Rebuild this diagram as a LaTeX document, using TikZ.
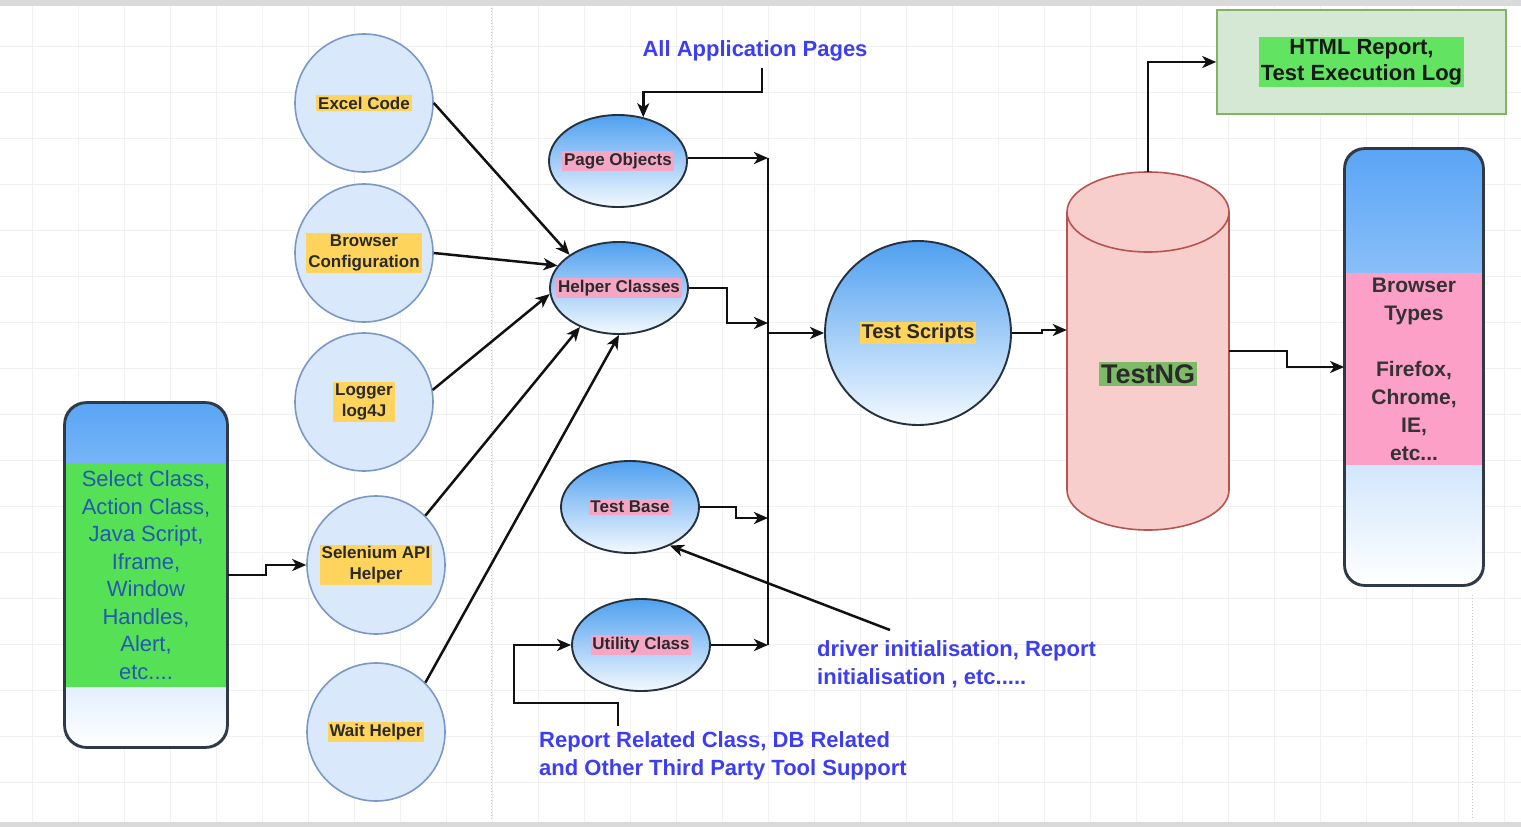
\documentclass[tikz,border=0pt]{standalone}
\usepackage{fontspec}
\setmainfont{Liberation Sans}
\usetikzlibrary{shapes.geometric,arrows.meta,calc}
\definecolor{circF}{HTML}{DAE8FC}
\definecolor{circB}{HTML}{7A98C4}
\definecolor{hlY}{HTML}{FFD45C}
\definecolor{hlP}{HTML}{F4A6C4}
\definecolor{labTxt}{HTML}{2A2A2A}
\definecolor{ellTop}{HTML}{4FA0F0}
\definecolor{ellBot}{HTML}{F4F9FF}
\definecolor{ellB}{HTML}{26313F}
\definecolor{arrC}{HTML}{111111}
\definecolor{boxTop}{HTML}{5AA5F5}
\definecolor{boxB}{HTML}{2F3A46}
\definecolor{greenBand}{HTML}{55E055}
\definecolor{leftTxt}{HTML}{2459B0}
\definecolor{pinkBand}{HTML}{FCA0C8}
\definecolor{brTxt}{HTML}{333333}
\definecolor{htmlF}{HTML}{D5E8D4}
\definecolor{htmlB}{HTML}{82B366}
\definecolor{htmlHL}{HTML}{62E462}
\definecolor{ngHL}{HTML}{7DBB69}
\definecolor{cylF}{HTML}{F8CECC}
\definecolor{cylB}{HTML}{B85450}
\definecolor{blueTxt}{HTML}{3D3DF2}
\definecolor{gridC}{HTML}{F1F1F1}
\definecolor{stripC}{HTML}{DADADA}
\begin{document}
\begin{tikzpicture}[x=1pt,y=-1pt,
  circ/.style={circle, draw=circB, fill=circF, line width=1.6pt, minimum size=138pt, inner sep=0pt},
  lab/.style={text=labTxt, font=\bfseries\fontsize{17}{21}\selectfont, inner sep=1.8pt, align=center},
  hly/.style={lab, fill=hlY},
  hlp/.style={lab, fill=hlP},
  ell/.style={ellipse, draw=ellB, line width=1.9pt, top color=ellTop, bottom color=ellBot, minimum width=138pt, minimum height=92pt, inner sep=0pt},
  arr/.style={draw=arrC, line width=2.5pt, -{Stealth[length=14pt,width=12pt,inset=4pt]}},
  ln/.style={draw=arrC, line width=2.5pt},
  bluetxt/.style={text=blueTxt, font=\bfseries\fontsize{22}{28}\selectfont, align=left, inner sep=0pt},
  tallbox/.style={draw=boxB, line width=1.8pt, rounded corners=20pt, top color=boxTop, bottom color=white, inner sep=0pt}
]
\useasboundingbox (0,0) rectangle (1521,827);
\fill[white] (0,0) rectangle (1521,827);
% faint grid
\foreach \gx in {32,78,...,1521} \draw[gridC, line width=1pt] (\gx,6) -- (\gx,822);
\foreach \gy in {46,92,...,822} \draw[gridC, line width=1pt] (0,\gy) -- (1521,\gy);
\draw[black!22, line width=1pt, dotted] (491,8) -- (491,820);
\draw[black!22, line width=1pt, dotted] (1472,595) -- (1472,820);
\fill[stripC] (0,0) rectangle (1521,6);
\fill[stripC] (0,822) rectangle (1521,827);

% left circles
\node[circ] (excel) at (364,103) {};
\node[hly] (excelT) at (excel.center) {Excel Code};
\node[circ] (brconf) at (364,253) {};
\node[hly] (brconfT) at (brconf.center) {Browser\\Configuration};
\node[circ] (logger) at (364,402) {};
\node[hly] (loggerT) at (logger.center) {Logger\\log4J};
\node[circ] (selen) at (376,565) {};
\node[hly] (selenT) at (selen.center) {Selenium API\\Helper};
\node[circ] (wait) at (376,732) {};
\node[hly] (waitT) at (wait.center) {Wait Helper};

% left tall box
\node[tallbox, rounded corners=22pt, minimum width=162pt, minimum height=344pt] (selbox) at (146,575) {};
\fill[greenBand] (66,463) rectangle (226,687);
\draw[boxB, line width=1.8pt, rounded corners=22pt] (selbox.north west) rectangle (selbox.south east);
\node[text=leftTxt, font=\fontsize{22}{27.5}\selectfont, align=center, inner sep=0pt] (selboxT) at (146,575)
  {Select Class,\\Action Class,\\Java Script,\\Iframe,\\Window\\Handles,\\Alert,\\etc....};

% middle ellipses
\node[ell] (pageobj) at (618,161) {};
\node[hlp] (pageobjT) at (pageobj.center) {Page Objects};
\node[ell] (helper) at (619,288) {};
\node[hlp] (helperT) at (helper.center) {Helper Classes};
\node[ell] (testbase) at (630,507) {};
\node[hlp] (testbaseT) at (testbase.center) {Test Base};
\node[ell] (utility) at (641,645) {};
\node[hlp] (utilityT) at (utility.center) {Utility Class};

% test scripts
\node[ell, minimum width=186pt, minimum height=184pt] (ts) at (918,333) {};
\node[lab, fill=hlY, font=\bfseries\fontsize{20}{24}\selectfont] (tsT) at (ts.center) {Test Scripts};

% cylinder TestNG
\node[minimum width=162pt, minimum height=358pt, inner sep=0pt] (cyl) at (1148,351) {};
\filldraw[fill=cylF, draw=cylB, line width=1.6pt] (1067,212) -- (1067,490)
  arc[start angle=180, end angle=0, x radius=81, y radius=40] -- (1229,212)
  arc[start angle=0, end angle=-180, x radius=81, y radius=40] -- cycle;
\draw[cylB, line width=1.6pt] (1067,212) arc[start angle=180, end angle=0, x radius=81, y radius=40];
\node[text=labTxt, fill=ngHL, font=\bfseries\fontsize{27}{32}\selectfont, inner sep=2pt] (cylT) at (1148,374) {TestNG};

% HTML report box
\node[draw=htmlB, fill=htmlF, line width=1.6pt, minimum width=289pt, minimum height=104pt, inner sep=0pt] (html) at (1361.5,62) {};
\node[fill=htmlHL, text=black!90, font=\bfseries\fontsize{22}{26}\selectfont, align=center, inner sep=2pt] (htmlT) at (html.center) {HTML Report,\\Test Execution Log};

% browser types box
\node[tallbox, minimum width=138pt, minimum height=436pt] (brbox) at (1414,367) {};
\fill[pinkBand] (1346,273) rectangle (1482,465);
\draw[boxB, line width=1.8pt, rounded corners=20pt] (brbox.north west) rectangle (brbox.south east);
\node[text=brTxt, font=\bfseries\fontsize{21}{28}\selectfont, align=center, inner sep=0pt] (brboxT) at (1414,369)
  {Browser\\Types\\[28pt]Firefox,\\Chrome,\\IE,\\etc...};

% blue annotation texts
\node[bluetxt] (apptxt) at (755,51) {All Application Pages};
\node[bluetxt, anchor=west] (drvtxt) at (817,664) {driver initialisation, Report\\initialisation , etc.....};
\node[bluetxt, anchor=west] (reptxt) at (539,756) {Report Related Class, DB Related\\and Other Third Party Tool Support};

% connectors into helper classes
\draw[arr] (excel.east) -- (helper.north west);
\draw[arr] (brconf.east) -- (helper.160);
\draw[arr] (logger.10) -- (helper.185);
\draw[arr] (selen.45) -- (helper.225);
\draw[arr] (wait.45) -- (helper.south);
\draw[arr] (selbox.east) -- ++(38,0) |- (selen.west);

% all application pages -> page objects
\coordinate (appS) at (762,68);
\draw[arr] (appS) -- ++(0,24) -| (pageobj.60);

% bus
\coordinate (busT) at (768,158);
\coordinate (busB) at (768,645);
\draw[ln] (busT) -- (busB);
\draw[arr] (pageobj.east |- busT) -- (busT);
\draw[arr] (helper.east) -- ++(38,0) |- (768,323);
\draw[arr] (testbase.east) -- ++(36,0) |- (768,518);
\draw[arr] (utility.east) -- (busB);
\draw[arr] (768,333) -- (ts.west);

% test scripts -> TestNG
\draw[arr] (ts.east) -- ++(30,0) -- ++(0,-3) -- (cyl.west |- 0,330);

% TestNG -> HTML report, Browser types
\draw[arr] (cyl.north) |- (html.west);
\draw[arr] (cyl.east) -- ++(58,0) |- (brbox.west);

% driver initialisation -> test base
\coordinate (drvS) at (890,630);
\draw[arr] (drvS) -- (testbase.-44);

% report related -> utility class
\coordinate (repS) at (618,726);
\coordinate (repK) at (514,703);
\draw[arr] (repS) |- (repK) |- (utility.west);
\end{tikzpicture}
\end{document}
